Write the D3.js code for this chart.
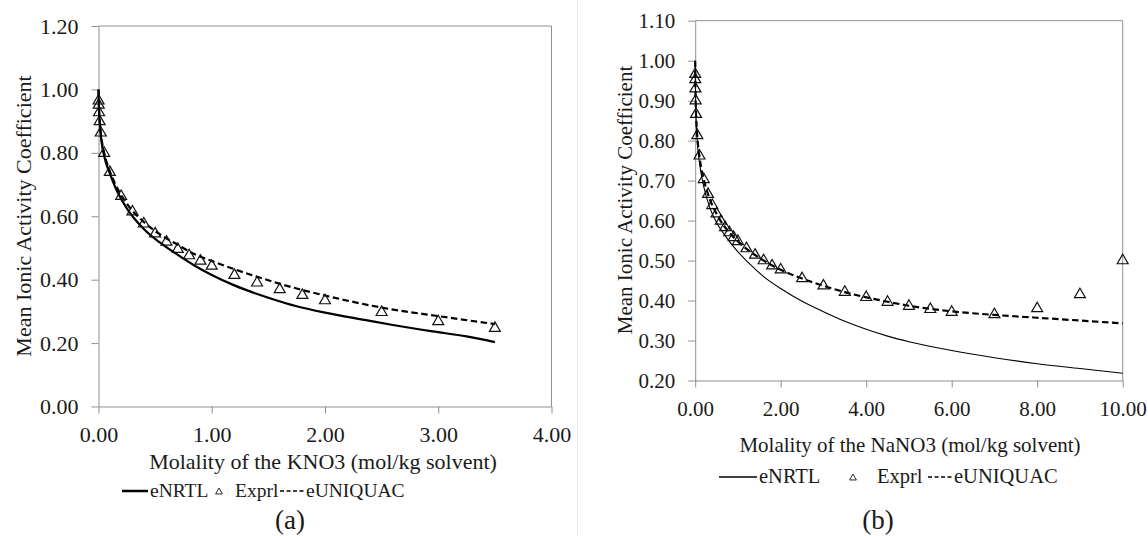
<!DOCTYPE html>
<html>
<head>
<meta charset="utf-8">
<script src="https://cdn.jsdelivr.net/npm/d3@7"></script>
<style>
  body { margin: 0; background: #fff; }
  svg text { font-family: "Liberation Serif", "Times New Roman", serif; fill: #1a1a1a; }
</style>
</head>
<body>
<script>
// panel (a) KNO3
var kno3ExpM = [0.001, 0.002, 0.005, 0.01, 0.02, 0.05, 0.1, 0.2, 0.3, 0.4, 0.5, 0.6, 0.7, 0.8, 0.9, 1.0, 1.2, 1.4, 1.6, 1.8, 2.0, 2.5, 3.0, 3.5];
var kno3ExpG = [0.964, 0.951, 0.927, 0.899, 0.863, 0.799, 0.739, 0.663, 0.614, 0.576, 0.545, 0.519, 0.496, 0.476, 0.459, 0.443, 0.414, 0.390, 0.369, 0.351, 0.334, 0.297, 0.268, 0.247];
var kno3NrtlM = [0, 0.005, 0.01, 0.025, 0.05, 0.1, 0.15, 0.25, 0.4, 0.55, 0.7, 0.85, 1.0, 1.2, 1.5, 1.75, 2.0, 2.35, 2.6, 2.95, 3.25, 3.5];
var kno3NrtlG = [1.0, 0.93, 0.90, 0.84, 0.79, 0.735, 0.69, 0.625, 0.56, 0.515, 0.478, 0.444, 0.415, 0.382, 0.343, 0.316, 0.296, 0.273, 0.257, 0.237, 0.221, 0.203];
var kno3UniqM = [0, 0.005, 0.01, 0.025, 0.05, 0.1, 0.15, 0.25, 0.4, 0.55, 0.7, 0.85, 1.0, 1.2, 1.5, 1.75, 2.0, 2.5, 3.0, 3.5];
var kno3UniqG = [1.0, 0.935, 0.905, 0.85, 0.80, 0.742, 0.70, 0.64, 0.582, 0.541, 0.51, 0.48, 0.459, 0.433, 0.398, 0.372, 0.350, 0.312, 0.285, 0.260];
var xTicksA = [0, 1, 2, 3, 4];
var yTicksA = [0, 0.2, 0.4, 0.6, 0.8, 1.0, 1.2];

// panel (b) NaNO3
var nano3ExpM = [0.001, 0.002, 0.005, 0.01, 0.02, 0.05, 0.1, 0.2, 0.3, 0.4, 0.5, 0.6, 0.7, 0.8, 0.9, 1.0, 1.2, 1.4, 1.6, 1.8, 2.0, 2.5, 3.0, 3.5, 4.0, 4.5, 5.0, 5.5, 6.0, 7.0, 8.0, 9.0, 10.0];
var nano3ExpG = [0.966, 0.953, 0.930, 0.900, 0.866, 0.813, 0.762, 0.703, 0.666, 0.638, 0.617, 0.599, 0.583, 0.570, 0.558, 0.548, 0.530, 0.514, 0.500, 0.487, 0.477, 0.455, 0.437, 0.421, 0.408, 0.396, 0.386, 0.378, 0.371, 0.365, 0.380, 0.415, 0.500];
var nano3NrtlM = [0, 0.005, 0.01, 0.025, 0.05, 0.1, 0.2, 0.35, 0.5, 0.75, 1.0, 1.25, 1.6, 2.0, 2.5, 3.0, 3.5, 4.0, 4.5, 5.0, 6.0, 7.0, 8.0, 9.0, 10.0];
var nano3NrtlG = [1.0, 0.93, 0.90, 0.845, 0.795, 0.745, 0.685, 0.63, 0.595, 0.555, 0.522, 0.494, 0.46, 0.43, 0.398, 0.372, 0.348, 0.328, 0.311, 0.297, 0.275, 0.257, 0.242, 0.23, 0.218];
var nano3UniqM = [0, 0.005, 0.01, 0.02, 0.05, 0.1, 0.2, 0.3, 0.5, 0.7, 1.0, 1.5, 2.0, 2.5, 3.0, 3.5, 4.0, 4.5, 5.0, 6.0, 7.0, 8.0, 9.0, 10.0];
var nano3UniqG = [1.0, 0.93, 0.90, 0.866, 0.81, 0.76, 0.703, 0.666, 0.617, 0.583, 0.548, 0.507, 0.477, 0.455, 0.437, 0.421, 0.408, 0.397, 0.387, 0.373, 0.364, 0.357, 0.350, 0.343];
var xTicksB = [0, 2, 4, 6, 8, 10];
var yTicksB = [0.2, 0.3, 0.4, 0.5, 0.6, 0.7, 0.8, 0.9, 1.0, 1.1];

var legendNames = ["eNRTL", "Exprl", "eUNIQUAC"];

var svg = d3.select("body").append("svg")
  .attr("width", 1148)
  .attr("height", 536);

// faint divider between the two figures
svg.append("line")
  .attr("x1", 577.5).attr("x2", 577.5)
  .attr("y1", 0).attr("y2", 536)
  .attr("stroke", "#ededed");

var axisColor = "#8f8f8f";
var fmt = d3.format(".2f");

function drawPanel(p) {
  var x = d3.scaleLinear().domain(p.xDomain).range(p.xRange);
  var y = d3.scaleLinear().domain(p.yDomain).range(p.yRange);
  var g = svg.append("g");

  // top + right frame
  g.append("path")
    .attr("d", "M" + x.range()[0] + "," + y.range()[1] + "H" + x.range()[1] + "V" + y.range()[0])
    .attr("fill", "none")
    .attr("stroke", axisColor);

  var xAxis = g.append("g")
    .attr("transform", "translate(0," + y.range()[0] + ")")
    .call(d3.axisBottom(x).tickValues(p.xTicks).tickFormat(fmt).tickSize(7).tickSizeOuter(0).tickPadding(p.xPad));
  var yAxis = g.append("g")
    .attr("transform", "translate(" + x.range()[0] + ",0)")
    .call(d3.axisLeft(y).tickValues(p.yTicks).tickFormat(fmt).tickSize(7).tickSizeOuter(0).tickPadding(13));
  [xAxis, yAxis].forEach(function(a) {
    a.selectAll("path, line").attr("stroke", axisColor);
    a.selectAll("text")
      .style("font-family", "'Liberation Serif', serif")
      .style("font-size", p.tickFont + "px")
      .attr("fill", "#1a1a1a");
  });

  var line = d3.line()
    .x(function(d) { return x(d[0]); })
    .y(function(d) { return y(d[1]); })
    .curve(d3.curveMonotoneX);

  g.append("path")
    .datum(d3.zip(p.nrtlM, p.nrtlG))
    .attr("d", line)
    .attr("fill", "none")
    .attr("stroke", "#000")
    .attr("stroke-width", p.nrtlWidth);

  g.append("path")
    .datum(d3.zip(p.uniqM, p.uniqG))
    .attr("d", line)
    .attr("fill", "none")
    .attr("stroke", "#000")
    .attr("stroke-width", 2.2)
    .attr("stroke-dasharray", "6.5,3.5");

  var tri = d3.symbol().type(d3.symbolTriangle).size(52);
  g.selectAll(".pt")
    .data(d3.zip(p.expM, p.expG))
    .enter().append("path")
    .attr("class", "pt")
    .attr("d", tri)
    .attr("transform", function(d) { return "translate(" + x(d[0]) + "," + y(d[1]) + ")"; })
    .attr("fill", "none")
    .attr("stroke", "#111")
    .attr("stroke-width", 1.2);

  // axis titles
  g.append("text")
    .attr("x", p.xTitleX).attr("y", p.xTitleY)
    .attr("text-anchor", "middle")
    .style("font-size", p.titleFont + "px")
    .text(p.xTitle);
  g.append("text")
    .attr("transform", "translate(" + p.yTitleX + "," + p.yTitleY + ") rotate(-90)")
    .attr("text-anchor", "middle")
    .style("font-size", p.titleFont + "px")
    .text("Mean Ionic Activity Coefficient");

  // legend
  var lg = g.append("g").attr("transform", "translate(" + p.legX + "," + p.legY + ")");
  lg.append("line").attr("x1", 0).attr("x2", p.legLine).attr("y1", -6).attr("y2", -6)
    .attr("stroke", "#000").attr("stroke-width", p.nrtlWidth + 0.3);
  lg.append("text").attr("x", p.legLine + 2).attr("y", 0).style("font-size", p.legFont + "px").text(legendNames[0]);
  lg.append("path").attr("d", d3.symbol().type(d3.symbolTriangle).size(20))
    .attr("transform", "translate(" + p.legTri + ",-5)")
    .attr("fill", "none").attr("stroke", "#111").attr("stroke-width", 0.9);
  lg.append("text").attr("x", p.legExp).attr("y", 0).style("font-size", p.legFont + "px").text(legendNames[1]);
  lg.append("line").attr("x1", p.legDash).attr("x2", p.legDash + 24).attr("y1", -6).attr("y2", -6)
    .attr("stroke", "#000").attr("stroke-width", 1.6).attr("stroke-dasharray", "4,2.5");
  lg.append("text").attr("x", p.legDash + 26).attr("y", 0).style("font-size", p.legFont + "px").text(legendNames[2]);

  g.append("text")
    .attr("x", p.capX).attr("y", p.capY)
    .attr("text-anchor", "middle")
    .style("font-size", "27px")
    .text(p.caption);
}

drawPanel({
  xDomain: [0, 4], xRange: [98.5, 551.5],
  yDomain: [0, 1.2], yRange: [406.5, 26],
  xTicks: xTicksA, yTicks: yTicksA, xPad: 13, tickFont: 22,
  expM: kno3ExpM, expG: kno3ExpG,
  nrtlM: kno3NrtlM, nrtlG: kno3NrtlG, nrtlWidth: 2.2,
  uniqM: kno3UniqM, uniqG: kno3UniqG,
  xTitle: "Molality of the KNO3 (mol/kg solvent)", xTitleX: 323, xTitleY: 469,
  yTitleX: 31, yTitleY: 216, titleFont: 22,
  legX: 122, legY: 497, legFont: 19.5, legLine: 26, legTri: 97, legExp: 113, legDash: 158,
  caption: "(a)", capX: 290, capY: 529
});

drawPanel({
  xDomain: [0, 10], xRange: [695.2, 1122.7],
  yDomain: [0.2, 1.1], yRange: [380.5, 20.7],
  xTicks: xTicksB, yTicks: yTicksB, xPad: 14, tickFont: 21,
  expM: nano3ExpM, expG: nano3ExpG,
  nrtlM: nano3NrtlM, nrtlG: nano3NrtlG, nrtlWidth: 1.1,
  uniqM: nano3UniqM, uniqG: nano3UniqG,
  xTitle: "Molality of the NaNO3 (mol/kg solvent)", xTitleX: 910, xTitleY: 452,
  yTitleX: 632, yTitleY: 200, titleFont: 21,
  legX: 719, legY: 483, legFont: 20.5, legLine: 38, legTri: 134, legExp: 158, legDash: 209,
  caption: "(b)", capX: 878, capY: 529
});
</script>
</body>
</html>
